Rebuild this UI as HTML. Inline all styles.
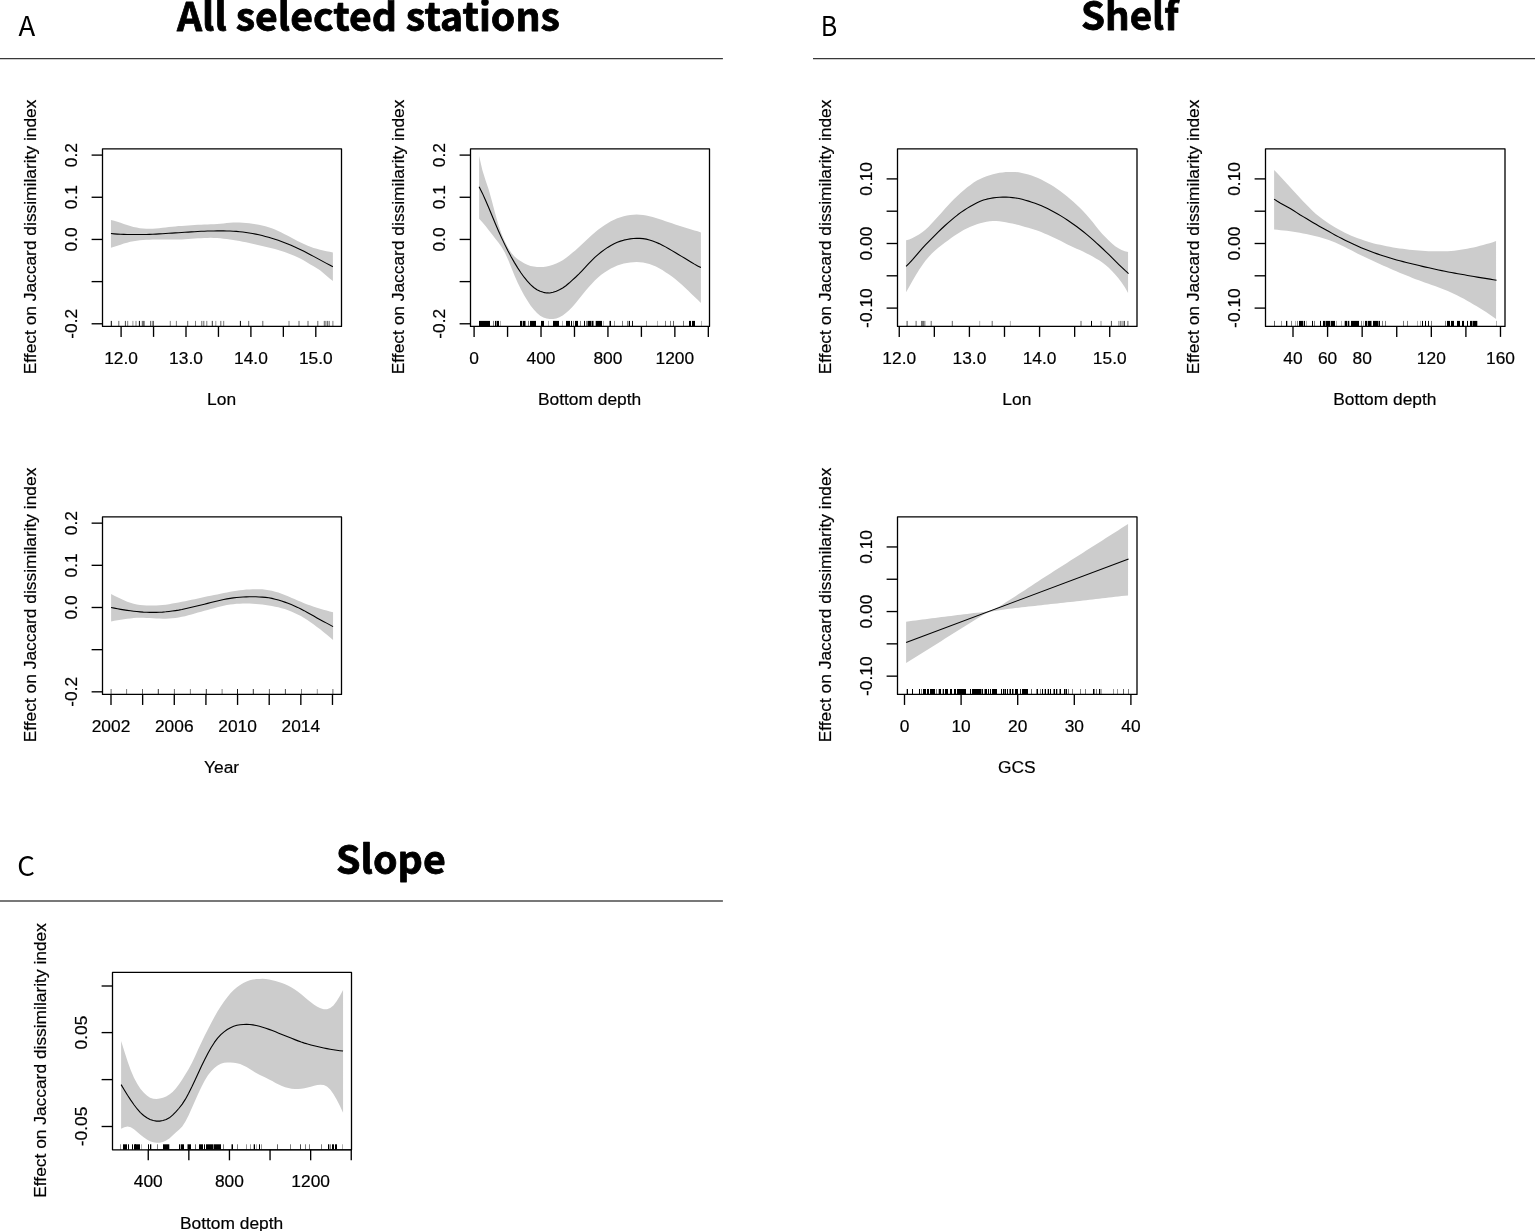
<!DOCTYPE html>
<html lang="en"><head><meta charset="utf-8"><title>GAM effects on Jaccard dissimilarity index</title>
<style>html,body{margin:0;padding:0;background:#fff;}body{width:1535px;height:1231px;overflow:hidden;}svg{display:block;}text{font-family:"Liberation Sans",sans-serif;font-size:17.36px;fill:#000;stroke:#000;stroke-width:0.2px;stroke-linejoin:round;}.ttl{font-family:"Noto Sans CJK SC","Liberation Sans",sans-serif;font-weight:bold;font-size:39.3px;stroke-width:0.8px;}.let{font-family:"Noto Sans CJK SC","Liberation Sans",sans-serif;font-size:26.9px;stroke-width:0;}</style>
</head><body>
<svg width="1535" height="1231" viewBox="0 0 1535 1231">
<rect width="1535" height="1231" fill="#fff"/>
<text class="ttl" transform="translate(176.90 31.00) scale(0.9982 1)">All selected stations</text>
<text class="ttl" transform="translate(1080.97 30.10) scale(0.9803 1)">Shelf</text>
<text class="ttl" transform="translate(335.93 874.10) scale(1.0018 1)">Slope</text>
<text class="let" transform="translate(18.47 36.25) scale(1.0239 1)">A</text>
<text class="let" transform="translate(820.79 36.40) scale(0.9330 1)">B</text>
<text class="let" transform="translate(17.34 876.20) scale(1.0257 1)">C</text>
<path d="M0 58.6 H722.9" stroke="#383838" stroke-width="1.2" fill="none"/>
<path d="M813 58.6 H1535" stroke="#383838" stroke-width="1.2" fill="none"/>
<rect x="0" y="900" width="722.9" height="2" fill="#787878"/>
<g>
<path d="M110.95 219.93 L114.16 220.75 L117.38 221.74 L120.60 222.83 L123.81 223.95 L127.03 225.04 L130.25 226.02 L133.46 226.88 L136.68 227.61 L139.90 228.18 L143.11 228.59 L146.33 228.82 L149.55 228.87 L152.76 228.76 L155.98 228.53 L159.20 228.20 L162.41 227.81 L165.63 227.41 L168.85 227.02 L172.06 226.67 L175.28 226.38 L178.50 226.12 L181.71 225.89 L184.93 225.68 L188.14 225.47 L191.36 225.25 L194.58 225.05 L197.79 224.86 L201.01 224.68 L204.23 224.53 L207.44 224.40 L210.66 224.27 L213.88 224.13 L217.09 223.94 L220.31 223.69 L223.53 223.39 L226.74 223.07 L229.96 222.77 L233.18 222.54 L236.39 222.42 L239.61 222.46 L242.83 222.63 L246.04 222.90 L249.26 223.27 L252.48 223.71 L255.69 224.20 L258.91 224.75 L262.13 225.41 L265.34 226.19 L268.56 227.13 L271.77 228.24 L274.99 229.52 L278.21 230.95 L281.42 232.51 L284.64 234.15 L287.86 235.85 L291.07 237.57 L294.29 239.29 L297.51 240.97 L300.72 242.59 L303.94 244.12 L307.16 245.53 L310.37 246.80 L313.59 247.90 L316.81 248.86 L320.02 249.69 L323.24 250.44 L326.46 251.14 L329.67 251.81 L332.89 252.50 L332.89 281.07 L329.67 278.56 L326.46 275.76 L323.24 272.94 L320.02 270.33 L316.81 268.15 L313.59 266.28 L310.37 264.44 L307.16 262.49 L303.94 260.54 L300.72 258.77 L297.51 257.21 L294.29 255.79 L291.07 254.47 L287.86 253.22 L284.64 252.06 L281.42 250.98 L278.21 249.98 L274.99 249.06 L271.77 248.21 L268.56 247.41 L265.34 246.65 L262.13 245.91 L258.91 245.18 L255.69 244.45 L252.48 243.73 L249.26 243.02 L246.04 242.34 L242.83 241.69 L239.61 241.08 L236.39 240.51 L233.18 239.98 L229.96 239.49 L226.74 239.05 L223.53 238.67 L220.31 238.36 L217.09 238.11 L213.88 237.94 L210.66 237.87 L207.44 237.88 L204.23 237.98 L201.01 238.13 L197.79 238.33 L194.58 238.55 L191.36 238.78 L188.14 239.01 L184.93 239.22 L181.71 239.39 L178.50 239.52 L175.28 239.60 L172.06 239.62 L168.85 239.61 L165.63 239.58 L162.41 239.55 L159.20 239.52 L155.98 239.53 L152.76 239.56 L149.55 239.64 L146.33 239.78 L143.11 239.99 L139.90 240.28 L136.68 240.68 L133.46 241.21 L130.25 241.87 L127.03 242.68 L123.81 243.62 L120.60 244.63 L117.38 245.68 L114.16 246.71 L110.95 247.68 Z" fill="#cccccc" stroke="none"/>
<path d="M110.95 233.56 L114.16 233.85 L117.38 234.08 L120.60 234.25 L123.81 234.38 L127.03 234.47 L130.25 234.53 L133.46 234.55 L136.68 234.55 L139.90 234.54 L143.11 234.50 L146.33 234.44 L149.55 234.36 L152.76 234.24 L155.98 234.08 L159.20 233.90 L162.41 233.70 L165.63 233.49 L168.85 233.28 L172.06 233.08 L175.28 232.89 L178.50 232.70 L181.71 232.51 L184.93 232.32 L188.14 232.11 L191.36 231.90 L194.58 231.70 L197.79 231.50 L201.01 231.32 L204.23 231.18 L207.44 231.07 L210.66 230.99 L213.88 230.93 L217.09 230.90 L220.31 230.90 L223.53 230.92 L226.74 230.97 L229.96 231.06 L233.18 231.21 L236.39 231.41 L239.61 231.69 L242.83 232.03 L246.04 232.45 L249.26 232.94 L252.48 233.49 L255.69 234.12 L258.91 234.82 L262.13 235.58 L265.34 236.41 L268.56 237.29 L271.77 238.24 L274.99 239.24 L278.21 240.31 L281.42 241.44 L284.64 242.65 L287.86 243.92 L291.07 245.27 L294.29 246.69 L297.51 248.17 L300.72 249.71 L303.94 251.31 L307.16 252.97 L310.37 254.66 L313.59 256.39 L316.81 258.13 L320.02 259.88 L323.24 261.64 L326.46 263.38 L329.67 265.10 L332.89 266.78" fill="none" stroke="#000" stroke-width="1.1" stroke-linejoin="round" stroke-linecap="butt"/>
<path d="M132.9 320.9V326.4 M215.8 320.9V326.4" stroke="#000" stroke-opacity="0.4" stroke-width="1" fill="none"/>
<path d="M127.7 320.9V326.4 M136.0 320.9V326.4 M170.3 320.9V326.4 M176.4 320.9V326.4 M195.5 320.9V326.4 M206.8 320.9V326.4 M223.7 320.9V326.4 M289.0 320.9V326.4 M332.9 320.9V326.4" stroke="#000" stroke-opacity="0.5" stroke-width="1" fill="none"/>
<path d="M118.8 320.9V326.4 M142.3 320.9V326.4 M143.3 320.9V326.4 M144.2 320.9V326.4 M187.7 320.9V326.4 M201.8 320.9V326.4 M203.8 320.9V326.4 M220.8 320.9V326.4 M248.7 320.9V326.4 M262.8 320.9V326.4 M299.0 320.9V326.4 M308.0 320.9V326.4 M317.8 320.9V326.4 M324.3 320.9V326.4 M325.9 320.9V326.4 M327.6 320.9V326.4 M329.2 320.9V326.4" stroke="#000" stroke-opacity="0.6" stroke-width="1" fill="none"/>
<path d="M125.4 320.9V326.4 M150.7 320.9V326.4" stroke="#000" stroke-opacity="0.7" stroke-width="1" fill="none"/>
<path d="M212.3 320.9V326.4" stroke="#000" stroke-opacity="0.8" stroke-width="1" fill="none"/>
<path d="M111.3 320.9V326.4 M139.4 320.9V326.4 M153.1 320.9V326.4 M240.4 320.9V326.4" stroke="#000" stroke-opacity="1.0" stroke-width="1" fill="none"/>
<rect x="102.50" y="148.85" width="239.00" height="177.55" fill="none" stroke="#000" stroke-width="1.3" stroke-linejoin="round"/>
<path d="M102.50 155.10 V323.78" stroke="#000" stroke-width="1.05" fill="none"/>
<path d="M102.50 155.10 H91.60" stroke="#000" stroke-width="1.35" fill="none"/>
<path d="M102.50 197.27 H91.60" stroke="#000" stroke-width="1.35" fill="none"/>
<path d="M102.50 239.44 H91.60" stroke="#000" stroke-width="1.35" fill="none"/>
<path d="M102.50 281.61 H91.60" stroke="#000" stroke-width="1.35" fill="none"/>
<path d="M102.50 323.78 H91.60" stroke="#000" stroke-width="1.35" fill="none"/>
<text transform="translate(77.40 155.10) rotate(-90)" text-anchor="middle">0.2</text>
<text transform="translate(77.40 197.27) rotate(-90)" text-anchor="middle">0.1</text>
<text transform="translate(77.40 239.44) rotate(-90)" text-anchor="middle">0.0</text>
<text transform="translate(77.40 323.78) rotate(-90)" text-anchor="middle">-0.2</text>
<path d="M121.10 326.40 H315.80" stroke="#000" stroke-width="1.05" fill="none"/>
<path d="M121.10 326.40 V336.90" stroke="#000" stroke-width="1.35" fill="none"/>
<path d="M153.55 326.40 V336.90" stroke="#000" stroke-width="1.35" fill="none"/>
<path d="M186.00 326.40 V336.90" stroke="#000" stroke-width="1.35" fill="none"/>
<path d="M218.45 326.40 V336.90" stroke="#000" stroke-width="1.35" fill="none"/>
<path d="M250.90 326.40 V336.90" stroke="#000" stroke-width="1.35" fill="none"/>
<path d="M283.35 326.40 V336.90" stroke="#000" stroke-width="1.35" fill="none"/>
<path d="M315.80 326.40 V336.90" stroke="#000" stroke-width="1.35" fill="none"/>
<text x="121.10" y="363.90" text-anchor="middle">12.0</text>
<text x="186.00" y="363.90" text-anchor="middle">13.0</text>
<text x="250.90" y="363.90" text-anchor="middle">14.0</text>
<text x="315.80" y="363.90" text-anchor="middle">15.0</text>
<text x="221.60" y="405.10" text-anchor="middle">Lon</text>
<text transform="translate(35.90 236.93) rotate(-90)" text-anchor="middle">Effect on Jaccard dissimilarity index</text>
</g>
<g>
<path d="M479.11 155.97 L482.33 170.09 L485.54 180.37 L488.76 189.85 L491.97 201.17 L495.18 213.60 L498.40 224.75 L501.61 233.91 L504.83 241.45 L508.04 247.67 L511.26 252.76 L514.47 256.58 L517.68 259.26 L520.90 261.31 L524.11 263.17 L527.33 264.78 L530.54 265.94 L533.75 266.60 L536.97 266.90 L540.18 267.00 L543.40 266.91 L546.61 266.51 L549.82 265.78 L553.04 264.76 L556.25 263.54 L559.47 262.09 L562.68 260.29 L565.90 258.06 L569.11 255.53 L572.32 252.86 L575.54 250.14 L578.75 247.32 L581.97 244.37 L585.18 241.32 L588.39 238.27 L591.61 235.29 L594.82 232.46 L598.04 229.84 L601.25 227.45 L604.47 225.23 L607.68 223.15 L610.89 221.27 L614.11 219.66 L617.32 218.31 L620.54 217.19 L623.75 216.24 L626.96 215.49 L630.18 214.96 L633.39 214.67 L636.61 214.60 L639.82 214.72 L643.03 215.03 L646.25 215.53 L649.46 216.21 L652.68 217.04 L655.89 217.99 L659.11 219.01 L662.32 220.08 L665.53 221.16 L668.75 222.26 L671.96 223.37 L675.18 224.48 L678.39 225.56 L681.60 226.56 L684.82 227.52 L688.03 228.46 L691.25 229.41 L694.46 230.38 L697.68 231.37 L700.89 232.38 L700.89 302.99 L697.68 299.87 L694.46 296.75 L691.25 293.65 L688.03 290.58 L684.82 287.55 L681.60 284.59 L678.39 281.72 L675.18 279.02 L671.96 276.55 L668.75 274.29 L665.53 272.16 L662.32 270.11 L659.11 268.20 L655.89 266.55 L652.68 265.18 L649.46 264.07 L646.25 263.20 L643.03 262.57 L639.82 262.21 L636.61 262.11 L633.39 262.22 L630.18 262.49 L626.96 262.92 L623.75 263.54 L620.54 264.38 L617.32 265.49 L614.11 266.91 L610.89 268.61 L607.68 270.50 L604.47 272.52 L601.25 274.78 L598.04 277.44 L594.82 280.55 L591.61 283.95 L588.39 287.52 L585.18 291.24 L581.97 295.15 L578.75 299.19 L575.54 303.18 L572.32 306.89 L569.11 310.19 L565.90 313.04 L562.68 315.39 L559.47 317.20 L556.25 318.40 L553.04 319.00 L549.82 319.06 L546.61 318.58 L543.40 317.48 L540.18 315.68 L536.97 313.06 L533.75 309.59 L530.54 305.39 L527.33 300.57 L524.11 295.19 L520.90 289.22 L517.68 282.64 L514.47 275.39 L511.26 267.42 L508.04 259.41 L504.83 252.51 L501.61 247.01 L498.40 242.61 L495.18 238.53 L491.97 234.35 L488.76 230.14 L485.54 226.05 L482.33 222.21 L479.11 218.76 Z" fill="#cccccc" stroke="none"/>
<path d="M479.11 186.70 L482.33 193.14 L485.54 200.25 L488.76 207.80 L491.97 215.56 L495.18 223.29 L498.40 230.75 L501.61 237.87 L504.83 244.62 L508.04 250.99 L511.26 256.98 L514.47 262.61 L517.68 267.86 L520.90 272.73 L524.11 277.20 L527.33 281.20 L530.54 284.66 L533.75 287.52 L536.97 289.75 L540.18 291.34 L543.40 292.35 L546.61 292.92 L549.82 292.98 L553.04 292.28 L556.25 291.19 L559.47 289.82 L562.68 288.03 L565.90 285.73 L569.11 283.04 L572.32 280.19 L575.54 277.23 L578.75 274.12 L581.97 270.81 L585.18 267.37 L588.39 263.93 L591.61 260.59 L594.82 257.46 L598.04 254.61 L601.25 252.02 L604.47 249.64 L607.68 247.42 L610.89 245.42 L614.11 243.70 L617.32 242.28 L620.54 241.11 L623.75 240.16 L626.96 239.42 L630.18 238.87 L633.39 238.53 L636.61 238.38 L639.82 238.39 L643.03 238.62 L646.25 239.13 L649.46 239.95 L652.68 241.01 L655.89 242.25 L659.11 243.62 L662.32 245.16 L665.53 246.87 L668.75 248.70 L671.96 250.61 L675.18 252.53 L678.39 254.47 L681.60 256.39 L684.82 258.32 L688.03 260.26 L691.25 262.22 L694.46 264.14 L697.68 265.95 L700.89 267.60" fill="none" stroke="#000" stroke-width="1.1" stroke-linejoin="round" stroke-linecap="butt"/>
<path d="M500.5 320.9V326.4 M522.5 320.9V326.4 M548.5 320.9V326.4 M562.5 320.9V326.4 M595.5 320.9V326.4 M603.5 320.9V326.4 M628.5 320.9V326.4 M657.5 320.9V326.4 M701.5 320.9V326.4" stroke="#000" stroke-opacity="0.3" stroke-width="1" fill="none"/>
<path d="M614.5 320.9V326.4 M646.5 320.9V326.4" stroke="#000" stroke-opacity="0.4" stroke-width="1" fill="none"/>
<path d="M493.5 320.9V326.4 M496.5 320.9V326.4 M525.5 320.9V326.4 M528.5 320.9V326.4 M573.5 320.9V326.4 M580.5 320.9V326.4 M586.5 320.9V326.4 M587.5 320.9V326.4 M591.5 320.9V326.4 M593.5 320.9V326.4 M609.5 320.9V326.4 M622.5 320.9V326.4 M627.5 320.9V326.4 M665.5 320.9V326.4 M670.5 320.9V326.4 M683.5 320.9V326.4" stroke="#000" stroke-opacity="0.5" stroke-width="1" fill="none"/>
<path d="M673.5 320.9V326.4" stroke="#000" stroke-opacity="0.6" stroke-width="1" fill="none"/>
<path d="M632.5 320.9V326.4" stroke="#000" stroke-opacity="0.9" stroke-width="1" fill="none"/>
<path d="M479.5 320.9V326.4 M480.5 320.9V326.4 M481.5 320.9V326.4 M482.5 320.9V326.4 M483.5 320.9V326.4 M484.5 320.9V326.4 M485.5 320.9V326.4 M486.5 320.9V326.4 M487.5 320.9V326.4 M488.5 320.9V326.4 M489.5 320.9V326.4 M495.5 320.9V326.4 M497.5 320.9V326.4 M498.5 320.9V326.4 M520.5 320.9V326.4 M521.5 320.9V326.4 M523.5 320.9V326.4 M524.5 320.9V326.4 M530.5 320.9V326.4 M531.5 320.9V326.4 M532.5 320.9V326.4 M533.5 320.9V326.4 M534.5 320.9V326.4 M535.5 320.9V326.4 M541.5 320.9V326.4 M542.5 320.9V326.4 M543.5 320.9V326.4 M553.5 320.9V326.4 M554.5 320.9V326.4 M555.5 320.9V326.4 M556.5 320.9V326.4 M557.5 320.9V326.4 M558.5 320.9V326.4 M566.5 320.9V326.4 M567.5 320.9V326.4 M568.5 320.9V326.4 M569.5 320.9V326.4 M571.5 320.9V326.4 M575.5 320.9V326.4 M576.5 320.9V326.4 M577.5 320.9V326.4 M584.5 320.9V326.4 M588.5 320.9V326.4 M589.5 320.9V326.4 M590.5 320.9V326.4 M592.5 320.9V326.4 M596.5 320.9V326.4 M597.5 320.9V326.4 M598.5 320.9V326.4 M599.5 320.9V326.4 M600.5 320.9V326.4 M601.5 320.9V326.4 M610.5 320.9V326.4 M629.5 320.9V326.4 M689.5 320.9V326.4 M690.5 320.9V326.4 M692.5 320.9V326.4 M693.5 320.9V326.4 M694.5 320.9V326.4" stroke="#000" stroke-opacity="1.0" stroke-width="1" fill="none"/>
<rect x="470.50" y="148.85" width="239.00" height="177.55" fill="none" stroke="#000" stroke-width="1.3" stroke-linejoin="round"/>
<path d="M470.50 155.10 V323.78" stroke="#000" stroke-width="1.05" fill="none"/>
<path d="M470.50 155.10 H459.60" stroke="#000" stroke-width="1.35" fill="none"/>
<path d="M470.50 197.27 H459.60" stroke="#000" stroke-width="1.35" fill="none"/>
<path d="M470.50 239.44 H459.60" stroke="#000" stroke-width="1.35" fill="none"/>
<path d="M470.50 281.61 H459.60" stroke="#000" stroke-width="1.35" fill="none"/>
<path d="M470.50 323.78 H459.60" stroke="#000" stroke-width="1.35" fill="none"/>
<text transform="translate(445.40 155.10) rotate(-90)" text-anchor="middle">0.2</text>
<text transform="translate(445.40 197.27) rotate(-90)" text-anchor="middle">0.1</text>
<text transform="translate(445.40 239.44) rotate(-90)" text-anchor="middle">0.0</text>
<text transform="translate(445.40 323.78) rotate(-90)" text-anchor="middle">-0.2</text>
<path d="M474.10 326.40 H708.32" stroke="#000" stroke-width="1.05" fill="none"/>
<path d="M474.10 326.40 V336.90" stroke="#000" stroke-width="1.35" fill="none"/>
<path d="M507.56 326.40 V336.90" stroke="#000" stroke-width="1.35" fill="none"/>
<path d="M541.02 326.40 V336.90" stroke="#000" stroke-width="1.35" fill="none"/>
<path d="M574.48 326.40 V336.90" stroke="#000" stroke-width="1.35" fill="none"/>
<path d="M607.94 326.40 V336.90" stroke="#000" stroke-width="1.35" fill="none"/>
<path d="M641.40 326.40 V336.90" stroke="#000" stroke-width="1.35" fill="none"/>
<path d="M674.86 326.40 V336.90" stroke="#000" stroke-width="1.35" fill="none"/>
<path d="M708.32 326.40 V336.90" stroke="#000" stroke-width="1.35" fill="none"/>
<text x="474.10" y="363.90" text-anchor="middle">0</text>
<text x="541.02" y="363.90" text-anchor="middle">400</text>
<text x="607.94" y="363.90" text-anchor="middle">800</text>
<text x="674.86" y="363.90" text-anchor="middle">1200</text>
<text x="589.60" y="405.10" text-anchor="middle">Bottom depth</text>
<text transform="translate(403.90 236.93) rotate(-90)" text-anchor="middle">Effect on Jaccard dissimilarity index</text>
</g>
<g>
<path d="M906.11 240.36 L909.33 239.45 L912.55 238.08 L915.76 236.37 L918.98 234.41 L922.20 232.25 L925.41 229.73 L928.63 226.71 L931.85 223.28 L935.06 219.69 L938.28 216.15 L941.50 212.63 L944.71 209.06 L947.93 205.47 L951.15 201.99 L954.36 198.72 L957.58 195.67 L960.80 192.77 L964.01 190.00 L967.23 187.37 L970.44 184.89 L973.66 182.61 L976.88 180.60 L980.09 178.89 L983.31 177.45 L986.53 176.22 L989.74 175.16 L992.96 174.25 L996.18 173.49 L999.39 172.87 L1002.61 172.41 L1005.83 172.10 L1009.04 171.93 L1012.26 171.89 L1015.48 172.02 L1018.69 172.35 L1021.91 172.90 L1025.13 173.63 L1028.34 174.49 L1031.56 175.49 L1034.78 176.66 L1037.99 178.03 L1041.21 179.56 L1044.43 181.22 L1047.64 182.99 L1050.86 184.87 L1054.07 186.87 L1057.29 189.00 L1060.51 191.30 L1063.72 193.76 L1066.94 196.34 L1070.16 198.99 L1073.37 201.74 L1076.59 204.64 L1079.81 207.73 L1083.02 211.02 L1086.24 214.51 L1089.46 218.20 L1092.67 222.09 L1095.89 226.13 L1099.11 230.15 L1102.32 233.92 L1105.54 237.35 L1108.76 240.52 L1111.97 243.49 L1115.19 246.13 L1118.41 248.28 L1121.62 249.93 L1124.84 251.14 L1128.06 251.99 L1128.06 293.02 L1124.84 287.35 L1121.62 282.54 L1118.41 278.36 L1115.19 274.61 L1111.97 271.09 L1108.76 267.82 L1105.54 264.92 L1102.32 262.47 L1099.11 260.35 L1095.89 258.42 L1092.67 256.61 L1089.46 254.87 L1086.24 253.19 L1083.02 251.59 L1079.81 250.10 L1076.59 248.71 L1073.37 247.30 L1070.16 245.77 L1066.94 244.14 L1063.72 242.49 L1060.51 240.85 L1057.29 239.26 L1054.07 237.73 L1050.86 236.25 L1047.64 234.80 L1044.43 233.38 L1041.21 232.04 L1037.99 230.85 L1034.78 229.81 L1031.56 228.84 L1028.34 227.86 L1025.13 226.89 L1021.91 225.95 L1018.69 225.08 L1015.48 224.28 L1012.26 223.58 L1009.04 222.95 L1005.83 222.33 L1002.61 221.70 L999.39 221.23 L996.18 221.04 L992.96 221.09 L989.74 221.32 L986.53 221.75 L983.31 222.39 L980.09 223.24 L976.88 224.24 L973.66 225.38 L970.44 226.66 L967.23 228.15 L964.01 229.87 L960.80 231.76 L957.58 233.76 L954.36 235.87 L951.15 238.09 L947.93 240.43 L944.71 242.84 L941.50 245.27 L938.28 247.76 L935.06 250.47 L931.85 253.54 L928.63 257.01 L925.41 260.87 L922.20 265.15 L918.98 269.92 L915.76 275.21 L912.55 280.85 L909.33 286.60 L906.11 292.19 Z" fill="#cccccc" stroke="none"/>
<path d="M906.11 266.44 L909.34 263.23 L912.56 259.69 L915.79 255.95 L919.01 252.16 L922.23 248.44 L925.46 244.92 L928.68 241.59 L931.90 238.32 L935.13 235.06 L938.35 231.84 L941.58 228.73 L944.80 225.74 L948.02 222.86 L951.25 220.05 L954.47 217.36 L957.69 214.81 L960.92 212.42 L964.14 210.20 L967.37 208.13 L970.59 206.20 L973.81 204.40 L977.04 202.73 L980.26 201.26 L983.48 200.08 L986.71 199.16 L989.93 198.44 L993.16 197.88 L996.38 197.48 L999.60 197.23 L1002.83 197.13 L1006.05 197.16 L1009.27 197.30 L1012.50 197.58 L1015.72 198.00 L1018.95 198.58 L1022.17 199.31 L1025.39 200.17 L1028.62 201.15 L1031.84 202.19 L1035.06 203.29 L1038.29 204.48 L1041.51 205.82 L1044.74 207.30 L1047.96 208.86 L1051.18 210.48 L1054.41 212.18 L1057.63 213.96 L1060.85 215.86 L1064.08 217.87 L1067.30 219.99 L1070.53 222.19 L1073.75 224.47 L1076.97 226.81 L1080.20 229.24 L1083.42 231.78 L1086.64 234.42 L1089.87 237.15 L1093.09 239.94 L1096.32 242.80 L1099.54 245.74 L1102.76 248.76 L1105.99 251.85 L1109.21 254.98 L1112.43 258.15 L1115.66 261.34 L1118.88 264.52 L1122.11 267.65 L1125.33 270.69 L1128.55 273.58" fill="none" stroke="#000" stroke-width="1.1" stroke-linejoin="round" stroke-linecap="butt"/>
<path d="M979.7 320.9V326.4 M1010.4 320.9V326.4" stroke="#000" stroke-opacity="0.3" stroke-width="1" fill="none"/>
<path d="M1101.0 320.9V326.4" stroke="#000" stroke-opacity="0.4" stroke-width="1" fill="none"/>
<path d="M924.9 320.9V326.4 M1118.9 320.9V326.4 M1120.6 320.9V326.4 M1122.1 320.9V326.4" stroke="#000" stroke-opacity="0.5" stroke-width="1" fill="none"/>
<path d="M916.1 320.9V326.4 M921.6 320.9V326.4 M922.7 320.9V326.4 M923.7 320.9V326.4 M931.2 320.9V326.4 M952.3 320.9V326.4 M992.2 320.9V326.4 M1081.0 320.9V326.4 M1127.9 320.9V326.4" stroke="#000" stroke-opacity="0.6" stroke-width="1" fill="none"/>
<path d="M907.1 320.9V326.4 M1111.4 320.9V326.4" stroke="#000" stroke-opacity="0.7" stroke-width="1" fill="none"/>
<path d="M1091.5 320.9V326.4 M1124.2 320.9V326.4" stroke="#000" stroke-opacity="1.0" stroke-width="1" fill="none"/>
<rect x="897.50" y="148.85" width="239.50" height="177.55" fill="none" stroke="#000" stroke-width="1.3" stroke-linejoin="round"/>
<path d="M897.50 178.90 V308.10" stroke="#000" stroke-width="1.05" fill="none"/>
<path d="M897.50 178.90 H886.60" stroke="#000" stroke-width="1.35" fill="none"/>
<path d="M897.50 211.20 H886.60" stroke="#000" stroke-width="1.35" fill="none"/>
<path d="M897.50 243.50 H886.60" stroke="#000" stroke-width="1.35" fill="none"/>
<path d="M897.50 275.80 H886.60" stroke="#000" stroke-width="1.35" fill="none"/>
<path d="M897.50 308.10 H886.60" stroke="#000" stroke-width="1.35" fill="none"/>
<text transform="translate(872.40 178.90) rotate(-90)" text-anchor="middle">0.10</text>
<text transform="translate(872.40 243.50) rotate(-90)" text-anchor="middle">0.00</text>
<text transform="translate(872.40 308.10) rotate(-90)" text-anchor="middle">-0.10</text>
<path d="M899.25 326.40 H1109.73" stroke="#000" stroke-width="1.05" fill="none"/>
<path d="M899.25 326.40 V336.90" stroke="#000" stroke-width="1.35" fill="none"/>
<path d="M934.33 326.40 V336.90" stroke="#000" stroke-width="1.35" fill="none"/>
<path d="M969.41 326.40 V336.90" stroke="#000" stroke-width="1.35" fill="none"/>
<path d="M1004.49 326.40 V336.90" stroke="#000" stroke-width="1.35" fill="none"/>
<path d="M1039.57 326.40 V336.90" stroke="#000" stroke-width="1.35" fill="none"/>
<path d="M1074.65 326.40 V336.90" stroke="#000" stroke-width="1.35" fill="none"/>
<path d="M1109.73 326.40 V336.90" stroke="#000" stroke-width="1.35" fill="none"/>
<text x="899.25" y="363.90" text-anchor="middle">12.0</text>
<text x="969.41" y="363.90" text-anchor="middle">13.0</text>
<text x="1039.57" y="363.90" text-anchor="middle">14.0</text>
<text x="1109.73" y="363.90" text-anchor="middle">15.0</text>
<text x="1016.85" y="405.10" text-anchor="middle">Lon</text>
<text transform="translate(830.90 236.93) rotate(-90)" text-anchor="middle">Effect on Jaccard dissimilarity index</text>
</g>
<g>
<path d="M1274.11 170.09 L1277.33 173.33 L1280.55 176.69 L1283.76 180.14 L1286.98 183.66 L1290.20 187.22 L1293.41 190.79 L1296.63 194.35 L1299.85 197.84 L1303.06 201.23 L1306.28 204.55 L1309.50 207.82 L1312.71 210.99 L1315.93 213.93 L1319.15 216.55 L1322.36 218.93 L1325.58 221.22 L1328.80 223.47 L1332.01 225.60 L1335.23 227.55 L1338.44 229.33 L1341.66 231.04 L1344.88 232.70 L1348.09 234.29 L1351.31 235.73 L1354.53 237.03 L1357.74 238.22 L1360.96 239.35 L1364.18 240.43 L1367.39 241.48 L1370.61 242.48 L1373.83 243.39 L1377.04 244.18 L1380.26 244.86 L1383.48 245.52 L1386.69 246.19 L1389.91 246.82 L1393.13 247.39 L1396.34 247.90 L1399.56 248.39 L1402.78 248.86 L1405.99 249.30 L1409.21 249.69 L1412.43 250.02 L1415.64 250.31 L1418.86 250.59 L1422.07 250.85 L1425.29 251.06 L1428.51 251.22 L1431.72 251.31 L1434.94 251.34 L1438.16 251.34 L1441.37 251.32 L1444.59 251.29 L1447.81 251.21 L1451.02 251.02 L1454.24 250.71 L1457.46 250.31 L1460.67 249.84 L1463.89 249.31 L1467.11 248.74 L1470.32 248.12 L1473.54 247.43 L1476.76 246.65 L1479.97 245.80 L1483.19 244.93 L1486.41 244.05 L1489.62 243.13 L1492.84 242.14 L1496.06 241.02 L1496.06 319.10 L1492.84 316.72 L1489.62 314.45 L1486.41 312.28 L1483.19 310.21 L1479.97 308.22 L1476.76 306.30 L1473.54 304.40 L1470.32 302.50 L1467.11 300.64 L1463.89 298.87 L1460.67 297.19 L1457.46 295.57 L1454.24 293.97 L1451.02 292.42 L1447.81 290.99 L1444.59 289.67 L1441.37 288.44 L1438.16 287.26 L1434.94 286.11 L1431.72 284.96 L1428.51 283.80 L1425.29 282.64 L1422.07 281.50 L1418.86 280.36 L1415.64 279.16 L1412.43 277.90 L1409.21 276.59 L1405.99 275.31 L1402.78 274.04 L1399.56 272.73 L1396.34 271.35 L1393.13 269.92 L1389.91 268.49 L1386.69 267.09 L1383.48 265.67 L1380.26 264.22 L1377.04 262.73 L1373.83 261.24 L1370.61 259.77 L1367.39 258.29 L1364.18 256.80 L1360.96 255.27 L1357.74 253.68 L1354.53 252.03 L1351.31 250.35 L1348.09 248.67 L1344.88 247.04 L1341.66 245.46 L1338.44 243.96 L1335.23 242.54 L1332.01 241.23 L1328.80 240.01 L1325.58 238.90 L1322.36 237.89 L1319.15 236.97 L1315.93 236.15 L1312.71 235.41 L1309.50 234.72 L1306.28 234.05 L1303.06 233.40 L1299.85 232.77 L1296.63 232.21 L1293.41 231.70 L1290.20 231.25 L1286.98 230.84 L1283.76 230.48 L1280.55 230.15 L1277.33 229.85 L1274.11 229.56 Z" fill="#cccccc" stroke="none"/>
<path d="M1274.11 199.16 L1277.34 201.27 L1280.56 203.17 L1283.79 204.95 L1287.01 206.71 L1290.23 208.53 L1293.46 210.52 L1296.68 212.61 L1299.90 214.68 L1303.13 216.64 L1306.35 218.54 L1309.58 220.47 L1312.80 222.42 L1316.02 224.34 L1319.25 226.18 L1322.47 227.97 L1325.69 229.76 L1328.92 231.56 L1332.14 233.37 L1335.37 235.15 L1338.59 236.89 L1341.81 238.59 L1345.04 240.23 L1348.26 241.82 L1351.48 243.36 L1354.71 244.85 L1357.93 246.29 L1361.16 247.67 L1364.38 249.01 L1367.60 250.31 L1370.83 251.55 L1374.05 252.73 L1377.27 253.86 L1380.50 254.95 L1383.72 256.01 L1386.95 257.07 L1390.17 258.08 L1393.39 259.03 L1396.62 259.93 L1399.84 260.80 L1403.06 261.65 L1406.29 262.48 L1409.51 263.27 L1412.74 264.04 L1415.96 264.81 L1419.18 265.59 L1422.41 266.37 L1425.63 267.11 L1428.85 267.82 L1432.08 268.52 L1435.30 269.23 L1438.53 269.95 L1441.75 270.64 L1444.97 271.30 L1448.20 271.93 L1451.42 272.53 L1454.64 273.10 L1457.87 273.68 L1461.09 274.25 L1464.32 274.83 L1467.54 275.42 L1470.76 276.01 L1473.99 276.58 L1477.21 277.11 L1480.43 277.62 L1483.66 278.12 L1486.88 278.63 L1490.11 279.15 L1493.33 279.69 L1496.55 280.23" fill="none" stroke="#000" stroke-width="1.1" stroke-linejoin="round" stroke-linecap="butt"/>
<path d="M1287.5 320.9V326.4 M1295.5 320.9V326.4 M1303.5 320.9V326.4 M1306.5 320.9V326.4 M1330.5 320.9V326.4 M1336.5 320.9V326.4 M1341.5 320.9V326.4 M1344.5 320.9V326.4 M1347.5 320.9V326.4 M1349.5 320.9V326.4 M1363.5 320.9V326.4 M1367.5 320.9V326.4 M1417.5 320.9V326.4 M1420.5 320.9V326.4 M1477.5 320.9V326.4 M1496.5 320.9V326.4" stroke="#000" stroke-opacity="0.3" stroke-width="1" fill="none"/>
<path d="M1281.5 320.9V326.4" stroke="#000" stroke-opacity="0.4" stroke-width="1" fill="none"/>
<path d="M1291.5 320.9V326.4 M1297.5 320.9V326.4 M1314.5 320.9V326.4 M1325.5 320.9V326.4 M1361.5 320.9V326.4 M1371.5 320.9V326.4 M1378.5 320.9V326.4 M1382.5 320.9V326.4 M1385.5 320.9V326.4 M1403.5 320.9V326.4 M1407.5 320.9V326.4 M1431.5 320.9V326.4 M1445.5 320.9V326.4 M1472.5 320.9V326.4" stroke="#000" stroke-opacity="0.5" stroke-width="1" fill="none"/>
<path d="M1274.5 320.9V326.4" stroke="#000" stroke-opacity="0.6" stroke-width="1" fill="none"/>
<path d="M1428.5 320.9V326.4" stroke="#000" stroke-opacity="0.9" stroke-width="1" fill="none"/>
<path d="M1286.5 320.9V326.4 M1299.5 320.9V326.4 M1300.5 320.9V326.4 M1301.5 320.9V326.4 M1302.5 320.9V326.4 M1304.5 320.9V326.4 M1312.5 320.9V326.4 M1320.5 320.9V326.4 M1323.5 320.9V326.4 M1324.5 320.9V326.4 M1326.5 320.9V326.4 M1327.5 320.9V326.4 M1328.5 320.9V326.4 M1329.5 320.9V326.4 M1331.5 320.9V326.4 M1332.5 320.9V326.4 M1333.5 320.9V326.4 M1334.5 320.9V326.4 M1345.5 320.9V326.4 M1346.5 320.9V326.4 M1348.5 320.9V326.4 M1351.5 320.9V326.4 M1352.5 320.9V326.4 M1353.5 320.9V326.4 M1354.5 320.9V326.4 M1355.5 320.9V326.4 M1356.5 320.9V326.4 M1357.5 320.9V326.4 M1358.5 320.9V326.4 M1365.5 320.9V326.4 M1366.5 320.9V326.4 M1368.5 320.9V326.4 M1369.5 320.9V326.4 M1370.5 320.9V326.4 M1373.5 320.9V326.4 M1374.5 320.9V326.4 M1375.5 320.9V326.4 M1376.5 320.9V326.4 M1377.5 320.9V326.4 M1379.5 320.9V326.4 M1422.5 320.9V326.4 M1425.5 320.9V326.4 M1447.5 320.9V326.4 M1448.5 320.9V326.4 M1449.5 320.9V326.4 M1451.5 320.9V326.4 M1452.5 320.9V326.4 M1453.5 320.9V326.4 M1457.5 320.9V326.4 M1458.5 320.9V326.4 M1459.5 320.9V326.4 M1462.5 320.9V326.4 M1463.5 320.9V326.4 M1467.5 320.9V326.4 M1470.5 320.9V326.4 M1471.5 320.9V326.4 M1473.5 320.9V326.4 M1474.5 320.9V326.4 M1475.5 320.9V326.4 M1476.5 320.9V326.4" stroke="#000" stroke-opacity="1.0" stroke-width="1" fill="none"/>
<rect x="1265.50" y="148.85" width="239.50" height="177.55" fill="none" stroke="#000" stroke-width="1.3" stroke-linejoin="round"/>
<path d="M1265.50 178.90 V308.10" stroke="#000" stroke-width="1.05" fill="none"/>
<path d="M1265.50 178.90 H1254.60" stroke="#000" stroke-width="1.35" fill="none"/>
<path d="M1265.50 211.20 H1254.60" stroke="#000" stroke-width="1.35" fill="none"/>
<path d="M1265.50 243.50 H1254.60" stroke="#000" stroke-width="1.35" fill="none"/>
<path d="M1265.50 275.80 H1254.60" stroke="#000" stroke-width="1.35" fill="none"/>
<path d="M1265.50 308.10 H1254.60" stroke="#000" stroke-width="1.35" fill="none"/>
<text transform="translate(1240.40 178.90) rotate(-90)" text-anchor="middle">0.10</text>
<text transform="translate(1240.40 243.50) rotate(-90)" text-anchor="middle">0.00</text>
<text transform="translate(1240.40 308.10) rotate(-90)" text-anchor="middle">-0.10</text>
<path d="M1293.00 326.40 H1500.48" stroke="#000" stroke-width="1.05" fill="none"/>
<path d="M1293.00 326.40 V336.90" stroke="#000" stroke-width="1.35" fill="none"/>
<path d="M1327.58 326.40 V336.90" stroke="#000" stroke-width="1.35" fill="none"/>
<path d="M1362.16 326.40 V336.90" stroke="#000" stroke-width="1.35" fill="none"/>
<path d="M1396.74 326.40 V336.90" stroke="#000" stroke-width="1.35" fill="none"/>
<path d="M1431.32 326.40 V336.90" stroke="#000" stroke-width="1.35" fill="none"/>
<path d="M1465.90 326.40 V336.90" stroke="#000" stroke-width="1.35" fill="none"/>
<path d="M1500.48 326.40 V336.90" stroke="#000" stroke-width="1.35" fill="none"/>
<text x="1293.00" y="363.90" text-anchor="middle">40</text>
<text x="1327.58" y="363.90" text-anchor="middle">60</text>
<text x="1362.16" y="363.90" text-anchor="middle">80</text>
<text x="1431.32" y="363.90" text-anchor="middle">120</text>
<text x="1500.48" y="363.90" text-anchor="middle">160</text>
<text x="1384.85" y="405.10" text-anchor="middle">Bottom depth</text>
<text transform="translate(1198.90 236.93) rotate(-90)" text-anchor="middle">Effect on Jaccard dissimilarity index</text>
</g>
<g>
<path d="M111.11 594.08 L114.33 595.63 L117.55 597.23 L120.76 598.81 L123.98 600.31 L127.20 601.66 L130.41 602.81 L133.63 603.73 L136.85 604.44 L140.06 604.94 L143.28 605.27 L146.50 605.46 L149.71 605.54 L152.93 605.55 L156.15 605.50 L159.36 605.37 L162.58 605.10 L165.80 604.68 L169.01 604.17 L172.23 603.62 L175.44 603.05 L178.66 602.44 L181.88 601.80 L185.09 601.15 L188.31 600.51 L191.53 599.87 L194.74 599.22 L197.96 598.53 L201.18 597.81 L204.39 597.09 L207.61 596.37 L210.83 595.67 L214.04 595.01 L217.26 594.38 L220.48 593.74 L223.69 593.09 L226.91 592.45 L230.13 591.82 L233.34 591.23 L236.56 590.71 L239.78 590.26 L242.99 589.90 L246.21 589.62 L249.43 589.42 L252.64 589.27 L255.86 589.18 L259.07 589.19 L262.29 589.33 L265.51 589.64 L268.72 590.13 L271.94 590.80 L275.16 591.65 L278.37 592.62 L281.59 593.71 L284.81 594.91 L288.02 596.25 L291.24 597.67 L294.46 599.11 L297.67 600.50 L300.89 601.84 L304.11 603.13 L307.32 604.39 L310.54 605.56 L313.76 606.65 L316.97 607.66 L320.19 608.65 L323.41 609.63 L326.62 610.58 L329.84 611.50 L333.06 612.36 L333.06 639.93 L329.84 637.18 L326.62 634.49 L323.41 631.88 L320.19 629.35 L316.97 626.89 L313.76 624.50 L310.54 622.19 L307.32 619.96 L304.11 617.88 L300.89 616.02 L297.67 614.39 L294.46 612.90 L291.24 611.51 L288.02 610.24 L284.81 609.12 L281.59 608.17 L278.37 607.36 L275.16 606.63 L271.94 605.99 L268.72 605.43 L265.51 604.93 L262.29 604.51 L259.07 604.17 L255.86 603.90 L252.64 603.71 L249.43 603.59 L246.21 603.55 L242.99 603.57 L239.78 603.67 L236.56 603.86 L233.34 604.13 L230.13 604.53 L226.91 605.06 L223.69 605.73 L220.48 606.49 L217.26 607.29 L214.04 608.13 L210.83 608.99 L207.61 609.89 L204.39 610.80 L201.18 611.69 L197.96 612.59 L194.74 613.50 L191.53 614.43 L188.31 615.34 L185.09 616.15 L181.88 616.83 L178.66 617.41 L175.44 617.90 L172.23 618.29 L169.01 618.55 L165.80 618.67 L162.58 618.68 L159.36 618.62 L156.15 618.50 L152.93 618.32 L149.71 618.12 L146.50 617.92 L143.28 617.78 L140.06 617.74 L136.85 617.82 L133.63 618.05 L130.41 618.40 L127.20 618.80 L123.98 619.23 L120.76 619.70 L117.55 620.22 L114.33 620.82 L111.11 621.49 Z" fill="#cccccc" stroke="none"/>
<path d="M111.11 607.54 L114.33 608.16 L117.55 608.77 L120.76 609.35 L123.98 609.89 L127.20 610.38 L130.41 610.82 L133.63 611.21 L136.85 611.56 L140.06 611.86 L143.28 612.10 L146.50 612.26 L149.71 612.33 L152.93 612.35 L156.15 612.35 L159.36 612.29 L162.58 612.11 L165.80 611.82 L169.01 611.45 L172.23 611.05 L175.44 610.60 L178.66 610.09 L181.88 609.50 L185.09 608.82 L188.31 608.08 L191.53 607.31 L194.74 606.52 L197.96 605.76 L201.18 604.99 L204.39 604.19 L207.61 603.35 L210.83 602.51 L214.04 601.70 L217.26 600.93 L220.48 600.20 L223.69 599.52 L226.91 598.91 L230.13 598.37 L233.34 597.91 L236.56 597.53 L239.78 597.22 L242.99 596.99 L246.21 596.83 L249.43 596.74 L252.64 596.74 L255.86 596.81 L259.07 596.96 L262.29 597.14 L265.51 597.40 L268.72 597.79 L271.94 598.39 L275.16 599.18 L278.37 600.08 L281.59 601.06 L284.81 602.12 L288.02 603.28 L291.24 604.56 L294.46 605.92 L297.67 607.38 L300.89 608.95 L304.11 610.64 L307.32 612.44 L310.54 614.27 L313.76 616.10 L316.97 617.90 L320.19 619.67 L323.41 621.41 L326.62 623.14 L329.84 624.88 L333.06 626.64" fill="none" stroke="#000" stroke-width="1.1" stroke-linejoin="round" stroke-linecap="butt"/>
<path d="M317.3 689.0V694.5" stroke="#000" stroke-opacity="0.4" stroke-width="1" fill="none"/>
<path d="M126.6 689.0V694.5 M190.4 689.0V694.5 M222.1 689.0V694.5 M301.5 689.0V694.5" stroke="#000" stroke-opacity="0.5" stroke-width="1" fill="none"/>
<path d="M111.1 689.0V694.5 M142.5 689.0V694.5 M174.4 689.0V694.5 M269.4 689.0V694.5 M332.9 689.0V694.5" stroke="#000" stroke-opacity="0.6" stroke-width="1" fill="none"/>
<path d="M285.4 689.0V694.5" stroke="#000" stroke-opacity="0.7" stroke-width="1" fill="none"/>
<path d="M158.3 689.0V694.5 M206.3 689.0V694.5 M253.3 689.0V694.5" stroke="#000" stroke-opacity="0.8" stroke-width="1" fill="none"/>
<path d="M237.5 689.0V694.5" stroke="#000" stroke-opacity="0.9" stroke-width="1" fill="none"/>
<rect x="102.50" y="516.90" width="239.00" height="177.55" fill="none" stroke="#000" stroke-width="1.3" stroke-linejoin="round"/>
<path d="M102.50 523.15 V691.83" stroke="#000" stroke-width="1.05" fill="none"/>
<path d="M102.50 523.15 H91.60" stroke="#000" stroke-width="1.35" fill="none"/>
<path d="M102.50 565.32 H91.60" stroke="#000" stroke-width="1.35" fill="none"/>
<path d="M102.50 607.49 H91.60" stroke="#000" stroke-width="1.35" fill="none"/>
<path d="M102.50 649.66 H91.60" stroke="#000" stroke-width="1.35" fill="none"/>
<path d="M102.50 691.83 H91.60" stroke="#000" stroke-width="1.35" fill="none"/>
<text transform="translate(77.40 523.15) rotate(-90)" text-anchor="middle">0.2</text>
<text transform="translate(77.40 565.32) rotate(-90)" text-anchor="middle">0.1</text>
<text transform="translate(77.40 607.49) rotate(-90)" text-anchor="middle">0.0</text>
<text transform="translate(77.40 691.83) rotate(-90)" text-anchor="middle">-0.2</text>
<path d="M111.00 694.45 H332.48" stroke="#000" stroke-width="1.05" fill="none"/>
<path d="M111.00 694.45 V704.95" stroke="#000" stroke-width="1.35" fill="none"/>
<path d="M142.64 694.45 V704.95" stroke="#000" stroke-width="1.35" fill="none"/>
<path d="M174.28 694.45 V704.95" stroke="#000" stroke-width="1.35" fill="none"/>
<path d="M205.92 694.45 V704.95" stroke="#000" stroke-width="1.35" fill="none"/>
<path d="M237.56 694.45 V704.95" stroke="#000" stroke-width="1.35" fill="none"/>
<path d="M269.20 694.45 V704.95" stroke="#000" stroke-width="1.35" fill="none"/>
<path d="M300.84 694.45 V704.95" stroke="#000" stroke-width="1.35" fill="none"/>
<path d="M332.48 694.45 V704.95" stroke="#000" stroke-width="1.35" fill="none"/>
<text x="111.00" y="731.95" text-anchor="middle">2002</text>
<text x="174.28" y="731.95" text-anchor="middle">2006</text>
<text x="237.56" y="731.95" text-anchor="middle">2010</text>
<text x="300.84" y="731.95" text-anchor="middle">2014</text>
<text x="221.60" y="773.15" text-anchor="middle">Year</text>
<text transform="translate(35.90 604.97) rotate(-90)" text-anchor="middle">Effect on Jaccard dissimilarity index</text>
</g>
<g>
<path d="M906.11 621.65 L909.33 621.23 L912.55 620.82 L915.76 620.40 L918.98 619.99 L922.20 619.58 L925.41 619.16 L928.63 618.75 L931.85 618.34 L935.06 617.93 L938.28 617.53 L941.50 617.12 L944.71 616.71 L947.93 616.30 L951.15 615.90 L954.36 615.49 L957.58 615.08 L960.80 614.68 L964.01 614.28 L967.23 613.88 L970.44 613.49 L973.66 613.11 L976.88 612.75 L980.09 612.39 L983.31 611.97 L986.53 611.48 L989.74 610.78 L992.96 609.58 L996.18 608.09 L999.39 606.38 L1002.61 604.39 L1005.83 602.33 L1009.04 600.32 L1012.26 598.28 L1015.48 596.21 L1018.69 594.12 L1021.91 592.00 L1025.13 589.88 L1028.34 587.76 L1031.56 585.64 L1034.78 583.53 L1037.99 581.43 L1041.21 579.36 L1044.43 577.29 L1047.64 575.22 L1050.86 573.16 L1054.07 571.10 L1057.29 569.04 L1060.51 566.99 L1063.72 564.93 L1066.94 562.88 L1070.16 560.83 L1073.37 558.78 L1076.59 556.73 L1079.81 554.69 L1083.02 552.65 L1086.24 550.61 L1089.46 548.57 L1092.67 546.53 L1095.89 544.49 L1099.11 542.45 L1102.32 540.40 L1105.54 538.36 L1108.76 536.31 L1111.97 534.25 L1115.19 532.20 L1118.41 530.14 L1121.62 528.09 L1124.84 526.03 L1128.06 523.97 L1128.06 595.40 L1124.84 595.76 L1121.62 596.12 L1118.41 596.48 L1115.19 596.85 L1111.97 597.21 L1108.76 597.57 L1105.54 597.94 L1102.32 598.31 L1099.11 598.68 L1095.89 599.05 L1092.67 599.42 L1089.46 599.80 L1086.24 600.17 L1083.02 600.54 L1079.81 600.91 L1076.59 601.28 L1073.37 601.64 L1070.16 602.00 L1066.94 602.36 L1063.72 602.71 L1060.51 603.06 L1057.29 603.41 L1054.07 603.76 L1050.86 604.11 L1047.64 604.47 L1044.43 604.82 L1041.21 605.18 L1037.99 605.54 L1034.78 605.90 L1031.56 606.25 L1028.34 606.61 L1025.13 606.96 L1021.91 607.32 L1018.69 607.69 L1015.48 608.06 L1012.26 608.44 L1009.04 608.84 L1005.83 609.25 L1002.61 609.67 L999.39 610.13 L996.18 610.65 L992.96 611.23 L989.74 611.99 L986.53 613.23 L983.31 614.86 L980.09 616.66 L976.88 618.70 L973.66 620.77 L970.44 622.77 L967.23 624.78 L964.01 626.78 L960.80 628.79 L957.58 630.80 L954.36 632.82 L951.15 634.83 L947.93 636.85 L944.71 638.86 L941.50 640.88 L938.28 642.89 L935.06 644.90 L931.85 646.91 L928.63 648.92 L925.41 650.94 L922.20 652.95 L918.98 654.96 L915.76 656.97 L912.55 658.99 L909.33 661.00 L906.11 663.01 Z" fill="#cccccc" stroke="none"/>
<path d="M906.11 642.41 L1128.55 559.02" fill="none" stroke="#000" stroke-width="1.1" stroke-linejoin="round" stroke-linecap="butt"/>
<path d="M906.5 689.0V694.5 M938.5 689.0V694.5 M942.5 689.0V694.5 M1044.5 689.0V694.5 M1047.5 689.0V694.5 M1057.5 689.0V694.5 M1100.5 689.0V694.5 M1101.5 689.0V694.5" stroke="#000" stroke-opacity="0.3" stroke-width="1" fill="none"/>
<path d="M1113.5 689.0V694.5 M1117.5 689.0V694.5" stroke="#000" stroke-opacity="0.4" stroke-width="1" fill="none"/>
<path d="M921.5 689.0V694.5 M936.5 689.0V694.5 M981.5 689.0V694.5 M984.5 689.0V694.5 M1004.5 689.0V694.5 M1009.5 689.0V694.5 M1013.5 689.0V694.5 M1036.5 689.0V694.5 M1040.5 689.0V694.5 M1053.5 689.0V694.5 M1059.5 689.0V694.5 M1065.5 689.0V694.5 M1068.5 689.0V694.5 M1072.5 689.0V694.5 M1080.5 689.0V694.5 M1085.5 689.0V694.5 M1094.5 689.0V694.5 M1096.5 689.0V694.5 M1128.5 689.0V694.5" stroke="#000" stroke-opacity="0.5" stroke-width="1" fill="none"/>
<path d="M1031.5 689.0V694.5 M1123.5 689.0V694.5" stroke="#000" stroke-opacity="0.6" stroke-width="1" fill="none"/>
<path d="M1020.5 689.0V694.5" stroke="#000" stroke-opacity="0.9" stroke-width="1" fill="none"/>
<path d="M907.5 689.0V694.5 M912.5 689.0V694.5 M919.5 689.0V694.5 M923.5 689.0V694.5 M924.5 689.0V694.5 M925.5 689.0V694.5 M927.5 689.0V694.5 M928.5 689.0V694.5 M930.5 689.0V694.5 M931.5 689.0V694.5 M932.5 689.0V694.5 M933.5 689.0V694.5 M934.5 689.0V694.5 M939.5 689.0V694.5 M940.5 689.0V694.5 M943.5 689.0V694.5 M945.5 689.0V694.5 M946.5 689.0V694.5 M947.5 689.0V694.5 M950.5 689.0V694.5 M951.5 689.0V694.5 M954.5 689.0V694.5 M955.5 689.0V694.5 M957.5 689.0V694.5 M958.5 689.0V694.5 M959.5 689.0V694.5 M960.5 689.0V694.5 M961.5 689.0V694.5 M962.5 689.0V694.5 M963.5 689.0V694.5 M964.5 689.0V694.5 M965.5 689.0V694.5 M970.5 689.0V694.5 M972.5 689.0V694.5 M973.5 689.0V694.5 M974.5 689.0V694.5 M975.5 689.0V694.5 M976.5 689.0V694.5 M977.5 689.0V694.5 M978.5 689.0V694.5 M979.5 689.0V694.5 M980.5 689.0V694.5 M982.5 689.0V694.5 M985.5 689.0V694.5 M986.5 689.0V694.5 M988.5 689.0V694.5 M990.5 689.0V694.5 M992.5 689.0V694.5 M993.5 689.0V694.5 M994.5 689.0V694.5 M995.5 689.0V694.5 M996.5 689.0V694.5 M1001.5 689.0V694.5 M1003.5 689.0V694.5 M1005.5 689.0V694.5 M1007.5 689.0V694.5 M1010.5 689.0V694.5 M1012.5 689.0V694.5 M1015.5 689.0V694.5 M1016.5 689.0V694.5 M1017.5 689.0V694.5 M1022.5 689.0V694.5 M1023.5 689.0V694.5 M1024.5 689.0V694.5 M1025.5 689.0V694.5 M1026.5 689.0V694.5 M1027.5 689.0V694.5 M1037.5 689.0V694.5 M1042.5 689.0V694.5 M1045.5 689.0V694.5 M1048.5 689.0V694.5 M1050.5 689.0V694.5 M1054.5 689.0V694.5 M1056.5 689.0V694.5 M1060.5 689.0V694.5 M1064.5 689.0V694.5 M1066.5 689.0V694.5 M1093.5 689.0V694.5 M1099.5 689.0V694.5" stroke="#000" stroke-opacity="1.0" stroke-width="1" fill="none"/>
<rect x="897.50" y="516.90" width="239.50" height="177.55" fill="none" stroke="#000" stroke-width="1.3" stroke-linejoin="round"/>
<path d="M897.50 546.95 V676.15" stroke="#000" stroke-width="1.05" fill="none"/>
<path d="M897.50 546.95 H886.60" stroke="#000" stroke-width="1.35" fill="none"/>
<path d="M897.50 579.25 H886.60" stroke="#000" stroke-width="1.35" fill="none"/>
<path d="M897.50 611.55 H886.60" stroke="#000" stroke-width="1.35" fill="none"/>
<path d="M897.50 643.85 H886.60" stroke="#000" stroke-width="1.35" fill="none"/>
<path d="M897.50 676.15 H886.60" stroke="#000" stroke-width="1.35" fill="none"/>
<text transform="translate(872.40 546.95) rotate(-90)" text-anchor="middle">0.10</text>
<text transform="translate(872.40 611.55) rotate(-90)" text-anchor="middle">0.00</text>
<text transform="translate(872.40 676.15) rotate(-90)" text-anchor="middle">-0.10</text>
<path d="M904.50 694.45 H1130.90" stroke="#000" stroke-width="1.05" fill="none"/>
<path d="M904.50 694.45 V704.95" stroke="#000" stroke-width="1.35" fill="none"/>
<path d="M961.10 694.45 V704.95" stroke="#000" stroke-width="1.35" fill="none"/>
<path d="M1017.70 694.45 V704.95" stroke="#000" stroke-width="1.35" fill="none"/>
<path d="M1074.30 694.45 V704.95" stroke="#000" stroke-width="1.35" fill="none"/>
<path d="M1130.90 694.45 V704.95" stroke="#000" stroke-width="1.35" fill="none"/>
<text x="904.50" y="731.95" text-anchor="middle">0</text>
<text x="961.10" y="731.95" text-anchor="middle">10</text>
<text x="1017.70" y="731.95" text-anchor="middle">20</text>
<text x="1074.30" y="731.95" text-anchor="middle">30</text>
<text x="1130.90" y="731.95" text-anchor="middle">40</text>
<text x="1016.85" y="773.15" text-anchor="middle">GCS</text>
<text transform="translate(830.90 604.97) rotate(-90)" text-anchor="middle">Effect on Jaccard dissimilarity index</text>
</g>
<g>
<path d="M121.11 1041.10 L124.33 1051.15 L127.55 1061.18 L130.76 1070.25 L133.98 1077.76 L137.20 1083.83 L140.41 1088.67 L143.63 1092.50 L146.85 1095.55 L150.06 1097.69 L153.28 1098.73 L156.50 1098.95 L159.71 1098.60 L162.93 1097.78 L166.15 1096.48 L169.36 1094.57 L172.58 1091.89 L175.80 1088.39 L179.01 1084.20 L182.23 1079.45 L185.44 1074.35 L188.66 1068.91 L191.88 1062.89 L195.09 1056.16 L198.31 1049.12 L201.53 1042.16 L204.74 1035.48 L207.96 1029.19 L211.18 1023.10 L214.39 1017.05 L217.61 1011.30 L220.83 1006.16 L224.04 1001.52 L227.26 997.18 L230.48 993.28 L233.69 990.02 L236.91 987.35 L240.13 985.06 L243.34 983.09 L246.56 981.52 L249.78 980.36 L252.99 979.57 L256.21 979.11 L259.43 978.88 L262.64 978.87 L265.86 979.10 L269.07 979.57 L272.29 980.22 L275.51 980.99 L278.72 981.92 L281.94 983.01 L285.16 984.26 L288.37 985.69 L291.59 987.42 L294.81 989.50 L298.02 991.84 L301.24 994.36 L304.46 997.00 L307.67 999.71 L310.89 1002.31 L314.11 1004.67 L317.32 1006.70 L320.54 1008.31 L323.76 1009.30 L326.97 1009.34 L330.19 1008.08 L333.41 1005.40 L336.62 1001.34 L339.84 996.11 L343.06 989.93 L343.06 1112.87 L339.84 1105.84 L336.62 1099.42 L333.41 1093.90 L330.19 1089.56 L326.97 1086.60 L323.76 1085.03 L320.54 1084.63 L317.32 1085.02 L314.11 1085.86 L310.89 1086.79 L307.67 1087.61 L304.46 1088.26 L301.24 1088.71 L298.02 1088.93 L294.81 1088.91 L291.59 1088.64 L288.37 1088.09 L285.16 1087.24 L281.94 1086.07 L278.72 1084.61 L275.51 1082.91 L272.29 1081.11 L269.07 1079.39 L265.86 1077.78 L262.64 1076.24 L259.43 1074.70 L256.21 1073.02 L252.99 1071.06 L249.78 1069.00 L246.56 1067.07 L243.34 1065.40 L240.13 1064.09 L236.91 1063.17 L233.69 1062.63 L230.48 1062.39 L227.26 1062.39 L224.04 1062.77 L220.83 1063.76 L217.61 1065.46 L214.39 1067.88 L211.18 1071.13 L207.96 1075.36 L204.74 1080.59 L201.53 1086.74 L198.31 1093.58 L195.09 1100.80 L191.88 1108.09 L188.66 1115.16 L185.44 1121.53 L182.23 1126.44 L179.01 1129.73 L175.80 1132.55 L172.58 1135.61 L169.36 1138.46 L166.15 1140.62 L162.93 1142.01 L159.71 1142.66 L156.50 1142.75 L153.28 1142.30 L150.06 1141.20 L146.85 1139.49 L143.63 1137.27 L140.41 1134.69 L137.20 1131.89 L133.98 1129.19 L130.76 1127.20 L127.55 1126.52 L124.33 1127.19 L121.11 1128.65 Z" fill="#cccccc" stroke="none"/>
<path d="M121.11 1084.63 L124.33 1090.08 L127.55 1095.27 L130.76 1100.16 L133.98 1104.76 L137.20 1108.96 L140.41 1112.58 L143.63 1115.47 L146.85 1117.71 L150.06 1119.40 L153.28 1120.54 L156.50 1121.10 L159.71 1121.10 L162.93 1120.56 L166.15 1119.53 L169.36 1117.81 L172.58 1115.19 L175.80 1111.90 L179.01 1108.26 L182.23 1104.12 L185.44 1099.16 L188.66 1093.35 L191.88 1086.85 L195.09 1079.93 L198.31 1072.94 L201.53 1066.10 L204.74 1059.54 L207.96 1053.33 L211.18 1047.58 L214.39 1042.44 L217.61 1038.14 L220.83 1034.70 L224.04 1031.89 L227.26 1029.55 L230.48 1027.68 L233.69 1026.28 L236.91 1025.32 L240.13 1024.75 L243.34 1024.46 L246.56 1024.37 L249.78 1024.51 L252.99 1024.88 L256.21 1025.49 L259.43 1026.31 L262.64 1027.26 L265.86 1028.29 L269.07 1029.39 L272.29 1030.58 L275.51 1031.86 L278.72 1033.17 L281.94 1034.47 L285.16 1035.75 L288.37 1037.04 L291.59 1038.33 L294.81 1039.62 L298.02 1040.87 L301.24 1042.05 L304.46 1043.13 L307.67 1044.09 L310.89 1044.96 L314.11 1045.79 L317.32 1046.58 L320.54 1047.32 L323.76 1048.01 L326.97 1048.65 L330.19 1049.24 L333.41 1049.78 L336.62 1050.27 L339.84 1050.70 L343.06 1051.07" fill="none" stroke="#000" stroke-width="1.1" stroke-linejoin="round" stroke-linecap="butt"/>
<path d="M141.5 1144.3V1149.8 M151.5 1144.3V1149.8 M169.5 1144.3V1149.8 M180.5 1144.3V1149.8 M253.5 1144.3V1149.8 M256.5 1144.3V1149.8 M329.5 1144.3V1149.8 M342.5 1144.3V1149.8" stroke="#000" stroke-opacity="0.3" stroke-width="1" fill="none"/>
<path d="M120.5 1144.3V1149.8 M246.5 1144.3V1149.8 M250.5 1144.3V1149.8 M261.5 1144.3V1149.8" stroke="#000" stroke-opacity="0.4" stroke-width="1" fill="none"/>
<path d="M157.5 1144.3V1149.8 M187.5 1144.3V1149.8 M213.5 1144.3V1149.8 M223.5 1144.3V1149.8 M231.5 1144.3V1149.8 M237.5 1144.3V1149.8 M290.5 1144.3V1149.8 M305.5 1144.3V1149.8 M309.5 1144.3V1149.8 M321.5 1144.3V1149.8 M330.5 1144.3V1149.8" stroke="#000" stroke-opacity="0.5" stroke-width="1" fill="none"/>
<path d="M195.5 1144.3V1149.8 M277.5 1144.3V1149.8" stroke="#000" stroke-opacity="0.6" stroke-width="1" fill="none"/>
<path d="M300.5 1144.3V1149.8" stroke="#000" stroke-opacity="0.7" stroke-width="1" fill="none"/>
<path d="M123.5 1144.3V1149.8 M124.5 1144.3V1149.8 M125.5 1144.3V1149.8 M126.5 1144.3V1149.8 M128.5 1144.3V1149.8 M132.5 1144.3V1149.8 M134.5 1144.3V1149.8 M135.5 1144.3V1149.8 M135.5 1144.3V1149.8 M136.5 1144.3V1149.8 M137.5 1144.3V1149.8 M138.5 1144.3V1149.8 M139.5 1144.3V1149.8 M148.5 1144.3V1149.8 M150.5 1144.3V1149.8 M163.5 1144.3V1149.8 M164.5 1144.3V1149.8 M165.5 1144.3V1149.8 M166.5 1144.3V1149.8 M167.5 1144.3V1149.8 M168.5 1144.3V1149.8 M179.5 1144.3V1149.8 M181.5 1144.3V1149.8 M182.5 1144.3V1149.8 M183.5 1144.3V1149.8 M188.5 1144.3V1149.8 M189.5 1144.3V1149.8 M190.5 1144.3V1149.8 M199.5 1144.3V1149.8 M200.5 1144.3V1149.8 M201.5 1144.3V1149.8 M202.5 1144.3V1149.8 M204.5 1144.3V1149.8 M206.5 1144.3V1149.8 M207.5 1144.3V1149.8 M208.5 1144.3V1149.8 M209.5 1144.3V1149.8 M210.5 1144.3V1149.8 M211.5 1144.3V1149.8 M212.5 1144.3V1149.8 M214.5 1144.3V1149.8 M215.5 1144.3V1149.8 M216.5 1144.3V1149.8 M217.5 1144.3V1149.8 M218.5 1144.3V1149.8 M219.5 1144.3V1149.8 M220.5 1144.3V1149.8 M232.5 1144.3V1149.8 M254.5 1144.3V1149.8 M259.5 1144.3V1149.8 M328.5 1144.3V1149.8 M332.5 1144.3V1149.8 M333.5 1144.3V1149.8 M335.5 1144.3V1149.8 M336.5 1144.3V1149.8" stroke="#000" stroke-opacity="1.0" stroke-width="1" fill="none"/>
<rect x="112.50" y="972.45" width="239.00" height="177.35" fill="none" stroke="#000" stroke-width="1.3" stroke-linejoin="round"/>
<path d="M112.50 986.00 V1126.50" stroke="#000" stroke-width="1.05" fill="none"/>
<path d="M112.50 986.00 H101.60" stroke="#000" stroke-width="1.35" fill="none"/>
<path d="M112.50 1032.60 H101.60" stroke="#000" stroke-width="1.35" fill="none"/>
<path d="M112.50 1079.60 H101.60" stroke="#000" stroke-width="1.35" fill="none"/>
<path d="M112.50 1126.50 H101.60" stroke="#000" stroke-width="1.35" fill="none"/>
<text transform="translate(87.40 1032.60) rotate(-90)" text-anchor="middle">0.05</text>
<text transform="translate(87.40 1126.50) rotate(-90)" text-anchor="middle">-0.05</text>
<path d="M148.25 1149.80 H351.25" stroke="#000" stroke-width="1.05" fill="none"/>
<path d="M148.25 1149.80 V1160.30" stroke="#000" stroke-width="1.35" fill="none"/>
<path d="M188.85 1149.80 V1160.30" stroke="#000" stroke-width="1.35" fill="none"/>
<path d="M229.45 1149.80 V1160.30" stroke="#000" stroke-width="1.35" fill="none"/>
<path d="M270.05 1149.80 V1160.30" stroke="#000" stroke-width="1.35" fill="none"/>
<path d="M310.65 1149.80 V1160.30" stroke="#000" stroke-width="1.35" fill="none"/>
<path d="M351.25 1149.80 V1160.30" stroke="#000" stroke-width="1.35" fill="none"/>
<text x="148.25" y="1187.30" text-anchor="middle">400</text>
<text x="229.45" y="1187.30" text-anchor="middle">800</text>
<text x="310.65" y="1187.30" text-anchor="middle">1200</text>
<text x="231.60" y="1228.50" text-anchor="middle">Bottom depth</text>
<text transform="translate(45.90 1060.42) rotate(-90)" text-anchor="middle">Effect on Jaccard dissimilarity index</text>
</g>
</svg>
</body></html>
